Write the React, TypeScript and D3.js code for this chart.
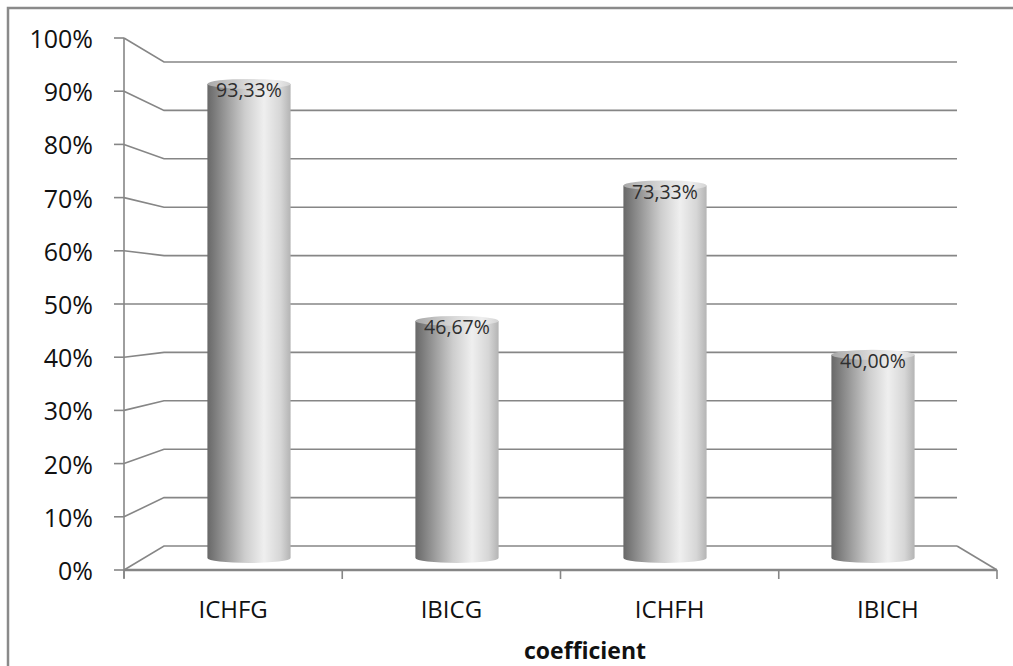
import React from "react";
import * as d3 from "d3";

const categories = ["ICHFG", "IBICG", "ICHFH", "IBICH"];
const values = [0.9333, 0.4667, 0.7333, 0.4];
const valueLabels = ["93,33%", "46,67%", "73,33%", "40,00%"];
const yTicks = [0, 0.1, 0.2, 0.3, 0.4, 0.5, 0.6, 0.7, 0.8, 0.9, 1.0];
const axisTitle = "coefficient";

const W = 1013;
const H = 666;

export default function App() {
  const font = "'Open Sans', 'DejaVu Sans', sans-serif";
  // front plane, back plane and mid (bar) plane
  const yFront = d3.scaleLinear().domain([0, 1]).range([570, 38]);
  const yBack = d3.scaleLinear().domain([0, 1]).range([546, 62]);
  const yMid = d3.scaleLinear().domain([0, 1]).range([558, 50]);
  const xFront = d3.scaleBand<string>().domain(categories).range([124, 997]);
  const xMid = d3
    .scaleBand<string>()
    .domain(categories)
    .range([145, 977])
    .paddingInner(0.6)
    .paddingOuter(0.3);
  const backLeft = 164;
  const backRight = 957;
  const fmt = d3.format(".0%");
  const ry = 5;
  const grid = "#868686";

  return (
    <svg
      width={W}
      height={H}
      style={{ position: "absolute", left: 0, top: 0, background: "#fff" }}
    >
      <defs>
        <linearGradient id="cyl" x1="0" x2="1" y1="0" y2="0">
          <stop offset="0" stopColor="#686868" />
          <stop offset="0.2" stopColor="#959595" />
          <stop offset="0.45" stopColor="#cdcdcd" />
          <stop offset="0.68" stopColor="#efefef" />
          <stop offset="0.88" stopColor="#d6d6d6" />
          <stop offset="1" stopColor="#b4b4b4" />
        </linearGradient>
        <linearGradient id="cap" x1="0" x2="1" y1="0" y2="0">
          <stop offset="0" stopColor="#a8a8a8" />
          <stop offset="0.5" stopColor="#dcdcdc" />
          <stop offset="0.8" stopColor="#eeeeee" />
          <stop offset="1" stopColor="#d4d4d4" />
        </linearGradient>
      </defs>
      <rect x={8} y={8} width={1100} height={700} fill="none" stroke="#8a8a8a" strokeWidth={2.5} />

      {/* gridlines */}
      {yTicks.map((t) => (
        <g key={t}>
          <line x1={114} x2={124} y1={yFront(t)} y2={yFront(t)} stroke={grid} strokeWidth={1.6} />
          <polyline
            points={`124,${yFront(t)} ${backLeft},${yBack(t)} ${backRight},${yBack(t)}`}
            fill="none"
            stroke={grid}
            strokeWidth={1.6}
          />
          <text
            x={93}
            y={yFront(t) + 10}
            textAnchor="end"
            fontFamily={font}
            fontSize={25}
            fill="#111"
          >
            {fmt(t)}
          </text>
        </g>
      ))}
      {/* floor right edge and front edge */}
      <line x1={backRight} y1={yBack(0)} x2={997} y2={yFront(0)} stroke={grid} strokeWidth={1.6} />
      <line x1={124} x2={997} y1={yFront(0)} y2={yFront(0)} stroke={grid} strokeWidth={2.6} />
      {/* y axis */}
      <line x1={124} x2={124} y1={yFront(1)} y2={yFront(0) + 8} stroke={grid} strokeWidth={1.6} />
      {/* x ticks */}
      {[...categories.map((c) => xFront(c) as number), 997].map((x, i) => (
        <line key={i} x1={x} x2={x} y1={yFront(0)} y2={yFront(0) + 9} stroke={grid} strokeWidth={1.6} />
      ))}

      {/* cylinders */}
      {categories.map((c, i) => {
        const x0 = xMid(c) as number;
        const w = xMid.bandwidth();
        const x1 = x0 + w;
        const rx = w / 2;
        const yt = yMid(values[i]);
        const yb = yMid(0);
        const body = `M${x0},${yt} L${x0},${yb} A${rx},${ry} 0 0 0 ${x1},${yb} L${x1},${yt} Z`;
        return (
          <g key={c}>
            <path d={body} fill="url(#cyl)" />
            <ellipse cx={x0 + rx} cy={yt} rx={rx} ry={ry} fill="url(#cap)" />
            <text
              x={x0 + rx}
              y={yt + 13.5}
              textAnchor="middle"
              fontFamily={font}
              fontSize={19.5}
              fill="#2e2e2e"
            >
              {valueLabels[i]}
            </text>
          </g>
        );
      })}

      {/* category labels */}
      {categories.map((c) => (
        <text
          key={c}
          x={(xFront(c) as number) + xFront.bandwidth() / 2}
          y={618}
          textAnchor="middle"
          fontFamily={font}
          fontSize={24}
          fill="#111"
        >
          {c}
        </text>
      ))}
      <text
        x={585}
        y={659}
        textAnchor="middle"
        fontFamily={font}
        fontSize={23}
        fontWeight="bold"
        fill="#111"
      >
        {axisTitle}
      </text>
    </svg>
  );
}
